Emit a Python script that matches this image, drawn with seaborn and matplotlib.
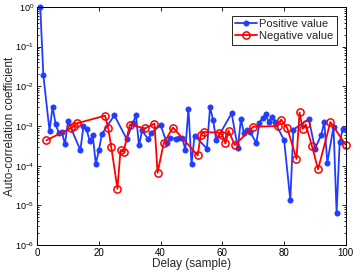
import numpy as np
import pandas as pd
import matplotlib
matplotlib.use("Agg")
import matplotlib.pyplot as plt
import seaborn as sns
from matplotlib.ticker import LogLocator, NullFormatter, FixedLocator

# ---- data (log10 of |auto-correlation|) ----
pos_lag = [1, 2, 4, 5, 6, 7, 8, 9, 10, 14, 15, 16, 17, 18, 19, 20, 21, 25, 29,
           31, 32, 33, 34, 36, 37, 40, 42, 43, 45, 46, 47, 48, 49, 50, 51,
           55, 56, 57, 58, 63, 65, 66, 67, 68, 69, 71, 72, 73, 74, 75, 76, 77,
           80, 82, 83, 88, 90, 92, 93, 94, 96, 97, 98, 99]
pos_log = [0.0, -1.72, -3.12, -2.52, -2.96, -3.17, -3.16, -3.46, -2.88, -3.61,
           -3.0, -3.08, -3.38, -3.23, -3.96, -3.6, -3.2, -2.73, -3.33,
           -2.93, -2.73, -3.49, -3.11, -3.34, -3.17, -2.98, -3.43, -3.3,
           -3.32, -3.31, -3.3, -3.6, -2.57, -3.96, -3.24,
           -3.57, -2.53, -2.85, -3.36, -2.68, -3.56, -2.83, -3.18, -3.1, -3.15,
           -3.43, -2.92, -2.8, -2.71, -2.9, -2.77, -2.9,
           -3.36, -4.87, -3.09, -2.83, -3.57, -3.23, -2.9, -3.92, -3.02, -5.18,
           -3.4, -3.08]

neg_lag = [3, 11, 12, 13, 22, 23, 24, 26, 27, 28, 30, 35, 38, 39, 41, 44,
           52, 53, 54, 59, 60, 61, 62, 64, 70, 78, 79, 81, 84, 85, 86, 87,
           89, 91, 95, 100]
neg_log = [-3.36, -3.05, -3.0, -2.93, -2.74, -3.04, -3.53, -4.58, -3.61, -3.65,
           -2.97, -3.06, -2.94, -4.18, -3.43, -3.04,
           -3.74, -3.23, -3.15, -3.17, -3.23, -3.44, -3.12, -3.48, -3.02,
           -3.0, -2.84, -3.05, -3.83, -2.66, -3.07, -2.96,
           -3.5, -4.09, -2.9, -3.48]

x_ticks = [0, 20, 40, 60, 80, 100]

pos = pd.DataFrame({"lag": pos_lag, "value": np.power(10.0, pos_log)})
neg = pd.DataFrame({"lag": neg_lag, "value": np.power(10.0, neg_log)})

sns.set_style("ticks")
plt.rcParams["font.family"] = ["Liberation Sans", "DejaVu Sans"]
plt.rcParams["xtick.direction"] = "in"
plt.rcParams["ytick.direction"] = "in"
plt.rcParams["axes.linewidth"] = 0.7

fig = plt.figure(figsize=(3.54, 2.76), dpi=100)
ax = fig.add_axes([0.105, 0.112, 0.872, 0.863])

blue = "#1f3cff"
sns.lineplot(data=pos, x="lag", y="value", ax=ax, color=blue, lw=1.3,
             marker="o", markersize=3.8, markerfacecolor=blue,
             markeredgecolor=blue, markeredgewidth=0.5,
             label="Positive value", clip_on=False)
sns.lineplot(data=neg, x="lag", y="value", ax=ax, color="red", lw=1.3,
             marker="o", markersize=5.2, markerfacecolor="none",
             markeredgecolor="red", markeredgewidth=1.1,
             label="Negative value", clip_on=False)

ax.set_yscale("log")
ax.set_xlim(0, 100)
ax.set_ylim(1e-6, 1)
ax.xaxis.set_major_locator(FixedLocator(x_ticks))
ax.yaxis.set_major_locator(LogLocator(base=10, numticks=10))
ax.yaxis.set_minor_locator(LogLocator(base=10, subs=np.arange(2, 10), numticks=20))
ax.yaxis.set_minor_formatter(NullFormatter())
ax.xaxis.offsetText.set_visible(False)
ax.yaxis.offsetText.set_visible(False)

ax.tick_params(axis="both", which="both", direction="in", top=True, right=True,
               colors="black", width=0.6)
ax.tick_params(axis="x", which="major", labelsize=7, length=3, pad=2)
ax.tick_params(axis="y", which="major", labelsize=6.5, length=3, pad=2)
ax.tick_params(axis="y", which="minor", length=1.6)

for s in ax.spines.values():
    s.set_visible(True)
    s.set_color("black")

ax.set_xlabel("Delay (sample)", fontsize=8.5, labelpad=0)
ax.set_ylabel("Auto-correlation coefficient", fontsize=8.5)
ax.yaxis.set_label_coords(-0.07, 0.5)

leg = ax.legend(loc="upper right", fontsize=8, frameon=True, fancybox=False,
                handlelength=2.0, handletextpad=0.2, borderpad=0.3,
                labelspacing=0.2, borderaxespad=0.8)
leg.get_frame().set_edgecolor("black")
leg.get_frame().set_linewidth(0.6)
leg.get_frame().set_alpha(1)

fig.savefig("out.png", dpi=100)
